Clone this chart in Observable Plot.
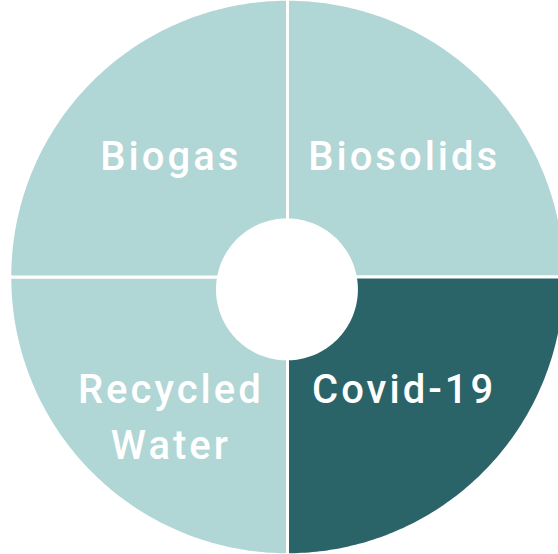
<!DOCTYPE html>
<html>
<head>
<meta charset="utf-8">
<script src="https://cdn.jsdelivr.net/npm/d3@7"></script>
<script src="https://cdn.jsdelivr.net/npm/@observablehq/plot@0.6"></script>
<style>
  html, body { margin: 0; padding: 0; background: white; }
</style>
</head>
<body>
<div id="chart"></div>
<script>
// Data: four equal segments, clockwise from 12 o'clock
const categories = ["Biosolids", "Covid-19", "Recycled Water", "Biogas"];
const values = [25, 25, 25, 25];
const highlighted = ["Covid-19"];

// Styling / layout
const W = 558, H = 554;
const unit = 275;            // pixels per unit radius
const cx = 287, cy = 276.5;  // pixel position of pie centre
const outerR = 1.01;
const holeR = 0.258;
const holeOffset = [-0.002, -0.045];
const labelR = 0.6;
const light = "#b1d6d6", dark = "#2b6468";

const pie = d3.pie().sort(null)(values);
const N = 120;
const slicePts = [];
pie.forEach((s, i) => {
  const cat = categories[i];
  const pts = [];
  for (let k = 0; k <= N; k++) {
    const a = s.startAngle + (s.endAngle - s.startAngle) * k / N;
    pts.push({cat, x: outerR * Math.sin(a), y: outerR * Math.cos(a)});
  }
  pts.push({cat, x: 0, y: 0});
  pts.push({...pts[0]});
  slicePts.push(...pts);
});

const holePts = d3.range(0, 181).map(k => {
  const a = 2 * Math.PI * k / 180;
  return {x: holeOffset[0] + holeR * Math.sin(a), y: holeOffset[1] + holeR * Math.cos(a)};
});

const labels = pie.map((s, i) => {
  const a = (s.startAngle + s.endAngle) / 2;
  return {text: categories[i].replace(" ", "\n"), x: labelR * Math.sin(a), y: labelR * Math.cos(a)};
});

const chart = Plot.plot({
  width: W,
  height: H,
  margin: 0,
  x: {domain: [-cx / unit, (W - cx) / unit], axis: null},
  y: {domain: [-(H - cy) / unit, cy / unit], axis: null},
  color: {domain: categories, range: categories.map(c => highlighted.includes(c) ? dark : light)},
  style: {fontFamily: "Roboto", letterSpacing: "3px", background: "white"},
  marks: [
    Plot.line(slicePts, {x: "x", y: "y", z: "cat", fill: "cat", stroke: "white", strokeWidth: 3, strokeLinejoin: "round"}),
    Plot.line(holePts, {x: "x", y: "y", fill: "white", stroke: "none"}),
    Plot.text(labels, {x: "x", y: "y", text: "text", fill: "white", fontSize: 40, fontWeight: 500, lineAnchor: "top", dy: -30, lineHeight: 1.4})
  ]
});
document.getElementById("chart").appendChild(chart);
</script>
</body>
</html>
